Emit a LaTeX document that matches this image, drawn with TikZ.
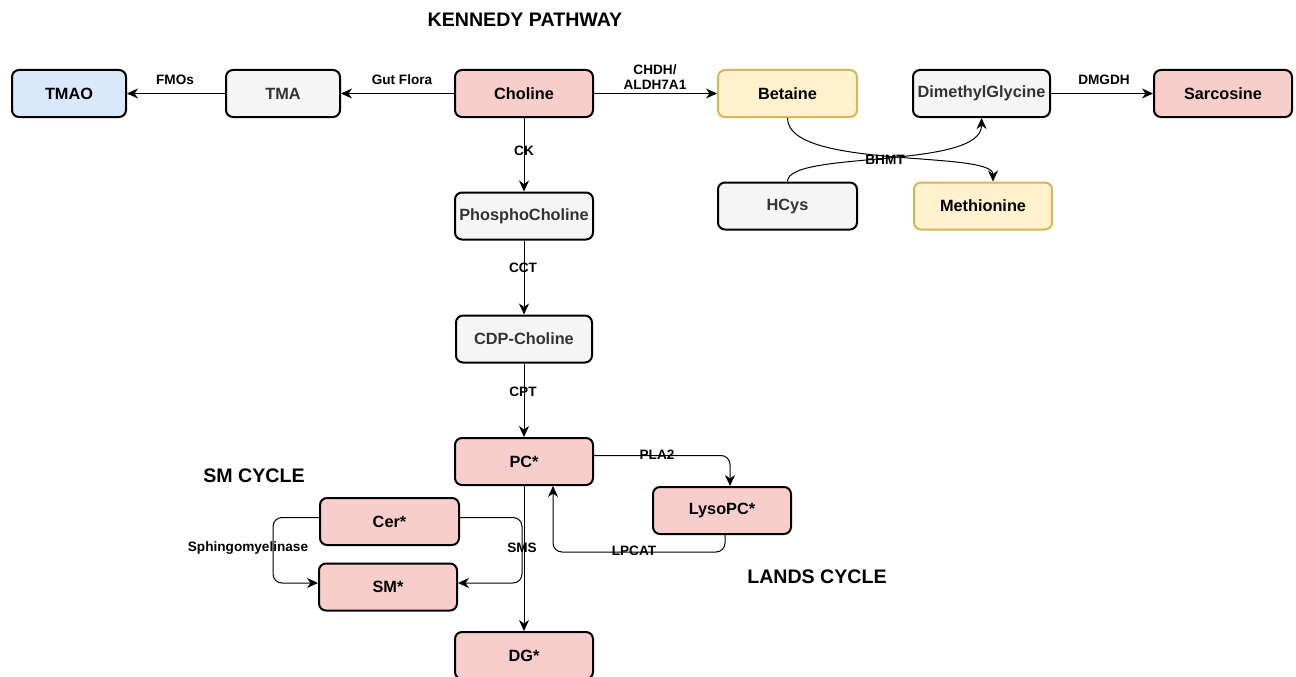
\documentclass[tikz,border=0pt]{standalone}
\usepackage{fontspec}
\setmainfont{Liberation Sans}
\usetikzlibrary{arrows.meta}
\definecolor{pinkf}{HTML}{F8CECC}
\definecolor{grayf}{HTML}{F5F5F5}
\definecolor{bluef}{HTML}{DAE8FC}
\definecolor{yellowf}{HTML}{FFF2CC}
\definecolor{yellowd}{HTML}{D6B656}
\definecolor{darktext}{HTML}{333333}
\tikzset{
  box/.style={draw=black, line width=2pt, rounded corners=7pt, minimum height=47pt,
    inner sep=0pt, font=\fontsize{16.3}{18}\selectfont\bfseries, text=black},
  pinkbox/.style={box, fill=pinkf},
  graybox/.style={box, fill=grayf, text=darktext},
  bluebox/.style={box, fill=bluef},
  yellowbox/.style={box, fill=yellowf, draw=yellowd},
  conn/.style={line width=1pt, -{Stealth[length=11pt,width=10pt,inset=3.5pt]}},
  elabel/.style={font=\fontsize{13.6}{15}\selectfont\bfseries, inner sep=0pt, align=center},
  title/.style={font=\fontsize{19.6}{21}\selectfont\bfseries, inner sep=0pt}
}
\begin{document}
\begin{tikzpicture}[x=1pt,y=-1pt]
\useasboundingbox (0,0) rectangle (1296,677);
% titles
\node[title] (tk) at (525,20) {KENNEDY PATHWAY};
\node[title] (tsm) at (254,476) {SM CYCLE};
\node[title] (tl) at (817,577) {LANDS CYCLE};
% nodes
\node[bluebox, minimum width=114pt] (tmao) at (69,93.5) {TMAO};
\node[graybox, minimum width=114pt] (tma) at (283,93.5) {TMA};
\node[pinkbox, minimum width=138pt] (cho) at (524,93.5) {Choline};
\node[yellowbox, minimum width=139pt] (bet) at (787.5,93.5) {Betaine};
\node[graybox, minimum width=137pt] (dmg) at (981.5,93.5) {DimethylGlycine};
\node[pinkbox, minimum width=138pt] (sar) at (1223,93.5) {Sarcosine};
\node[graybox, minimum width=139pt] (hcy) at (787.5,206) {HCys};
\node[yellowbox, minimum width=138pt] (met) at (983,206) {Methionine};
\node[graybox, minimum width=138pt] (pcho) at (524,216) {PhosphoCholine};
\node[graybox, minimum width=136pt] (cdp) at (524,339) {CDP-Choline};
\node[pinkbox, minimum width=138pt] (pc) at (524,461.5) {PC*};
\node[pinkbox, minimum width=138pt] (lyso) at (722,510.5) {LysoPC*};
\node[pinkbox, minimum width=139pt] (cer) at (389.5,521.5) {Cer*};
\node[pinkbox, minimum width=138pt] (sm) at (388,587) {SM*};
\node[pinkbox, minimum width=138pt] (dg) at (524,655.5) {DG*};
% connectors
\draw[conn] (cho.west) -- (tma.east);
\draw[conn] (tma.west) -- (tmao.east);
\draw[conn] (cho.east) -- (bet.west);
\draw[conn] (cho.south) -- (pcho.north);
\draw[conn] (pcho.south) -- (cdp.north);
\draw[conn] (cdp.south) -- (pc.north);
\draw[conn] (dmg.east) -- (sar.west);
\draw[conn] (bet.south) .. controls (787.5,170) and (993,150) .. ([xshift=10pt]met.north);
\draw[conn] (hcy.north) .. controls (787.5,150) and (982,170) .. (dmg.south);
\draw[conn, rounded corners=9pt] ([yshift=6pt]pc.east) -| ([xshift=8pt]lyso.north);
\draw[conn, rounded corners=9pt] ([xshift=3pt]lyso.south) -- ++(0,17) -| ([xshift=29pt]pc.south);
\draw[conn] (pc.south) -- (dg.north);
\draw[conn, rounded corners=9pt] ([yshift=4pt]cer.west) -- ++(-46,0) |- ([yshift=4pt]sm.west);
\draw[conn, rounded corners=9pt] ([yshift=4pt]cer.east) -- ++(62,0) |- ([yshift=4pt]sm.east);
% edge labels
\node[elabel] (lfmo) at (175,80) {FMOs};
\node[elabel] (lgut) at (402,80) {Gut Flora};
\node[elabel] (lchdh) at (655,77) {CHDH/\\ALDH7A1};
\node[elabel] (lck) at (524,151) {CK};
\node[elabel] (lcct) at (523,268) {CCT};
\node[elabel] (lcpt) at (523,392) {CPT};
\node[elabel] (ldmg) at (1104,80) {DMGDH};
\node[elabel] (lbhmt) at (885,160) {BHMT};
\node[elabel] (lpla) at (657,455) {PLA2};
\node[elabel] (llp) at (634,551) {LPCAT};
\node[elabel] (lsms) at (522,548) {SMS};
\node[elabel] (lsph) at (248,548) {Sphingomyelinase};
\end{tikzpicture}
\end{document}
